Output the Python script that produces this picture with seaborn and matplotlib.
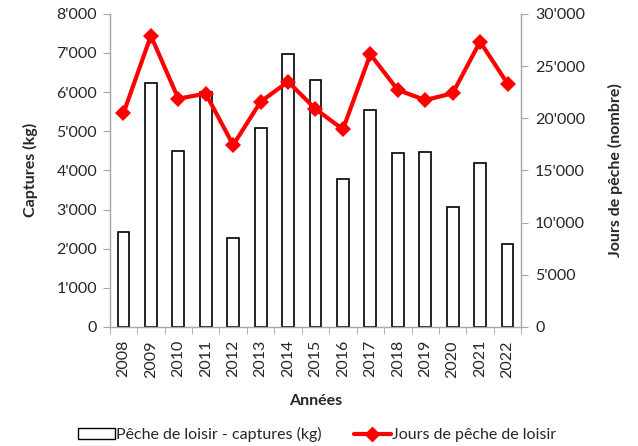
import numpy as np
import pandas as pd
import matplotlib
matplotlib.use("Agg")
import matplotlib.pyplot as plt
import matplotlib.ticker as mticker
from matplotlib.lines import Line2D
from matplotlib.patches import Patch
import seaborn as sns

# Data
annees = ['2008', '2009', '2010', '2011', '2012', '2013', '2014', '2015',
          '2016', '2017', '2018', '2019', '2020', '2021', '2022']
captures_kg = [2430, 6240, 4490, 6010, 2280, 5085, 6985, 6300,
               3775, 5545, 4455, 4470, 3060, 4190, 2110]
jours_peche = [20470, 27900, 21870, 22350, 17430, 21580, 23500, 20880,
               18930, 26120, 22700, 21740, 22380, 27330, 23310]

df = pd.DataFrame({'Annee': annees, 'Captures': captures_kg, 'Jours': jours_peche})

sns.set_style('white')
plt.rcParams['font.family'] = ['Lato', 'DejaVu Sans']

fig = plt.figure(figsize=(6.38, 4.46), dpi=100)
ax = fig.add_axes([0.172, 0.267, 0.645, 0.702])

# Bars: captures
sns.barplot(data=df, x='Annee', y='Captures', ax=ax, color='white',
            edgecolor='black', linewidth=1.2, width=0.43, saturation=1)
ax.set_ylim(0, 8000)
ax.set_xlim(-0.5, len(annees) - 0.5)
ax.yaxis.set_major_locator(mticker.MultipleLocator(1000))
fmt = mticker.FuncFormatter(lambda v, p: f"{int(v):,}".replace(',', "'"))
ax.yaxis.set_major_formatter(fmt)
ax.set_ylabel('Captures (kg)', fontsize=11.5, fontweight='bold', labelpad=13)
ax.set_xlabel('Années', fontsize=11.5, fontweight='bold', labelpad=12)

# Line: jours de peche on second axis
ax2 = ax.twinx()
sns.lineplot(x=np.arange(len(annees)), y=jours_peche, ax=ax2, color='#ff0000',
             linewidth=3, marker='D', markersize=8, markeredgewidth=0)
ax2.set_ylim(0, 30000)
ax2.yaxis.set_major_locator(mticker.MultipleLocator(5000))
ax2.yaxis.set_major_formatter(fmt)
ax2.set_ylabel('Jours de pêche (nombre)', fontsize=11.5, fontweight='bold', labelpad=16)
ax2.set_xlim(-0.5, len(annees) - 0.5)

for a in (ax, ax2):
    for s in a.spines.values():
        s.set_visible(False)
ax.spines['left'].set_visible(True)
ax.spines['bottom'].set_visible(True)
ax2.spines['right'].set_visible(True)
for s in (ax.spines['left'], ax.spines['bottom'], ax2.spines['right']):
    s.set_color('#a6a6a6')
    s.set_linewidth(1)

ax.tick_params(axis='y', left=True, length=5, color='#a6a6a6', labelsize=11.5, pad=4)
ax2.tick_params(axis='y', right=True, length=5, color='#a6a6a6', labelsize=11.5, pad=5)
# Category ticks between years, labels vertical
ax.set_xticks(np.arange(len(annees)))
ax.set_xticklabels(annees, rotation=90, fontsize=11.5)
ax.tick_params(axis='x', bottom=False, pad=6)
ax.set_xticks(np.arange(-0.5, len(annees), 1), minor=True)
ax.tick_params(axis='x', which='minor', bottom=True, length=5, color='#a6a6a6')

handles = [Patch(facecolor='white', edgecolor='black', linewidth=1),
           Line2D([0], [0], color='#ff0000', linewidth=3, marker='D', markersize=7)]
fig.legend(handles, ['Pêche de loisir - captures (kg)', 'Jours de pêche de loisir'],
           loc='center', bbox_to_anchor=(0.497, 0.025), ncol=2, frameon=False,
           fontsize=11.5, handlelength=2.3, handletextpad=0.1, columnspacing=2.0)

fig.savefig('out.png', dpi=100)
